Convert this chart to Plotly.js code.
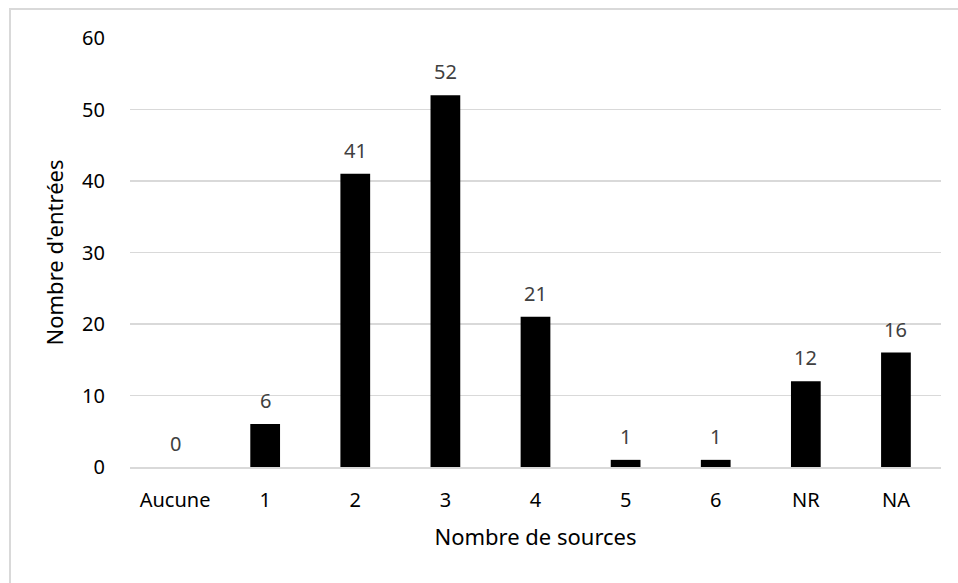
<!DOCTYPE html>
<html>
<head>
<meta charset="utf-8">
<script src="https://cdn.plot.ly/plotly-3.0.1.min.js"></script>
<style>
html,body{margin:0;padding:0;background:#fff;}
#wrap{position:relative;width:958px;height:583px;overflow:hidden;}
#chart{width:958px;height:583px;}
#frame{position:absolute;left:9px;top:8px;width:1000px;height:700px;border-left:2px solid #d9d9d9;border-top:2px solid #d9d9d9;pointer-events:none;}
</style>
</head>
<body>
<div id="wrap">
<div id="chart"></div>
<div id="frame"></div>
</div>
<script>
const categories = ["Aucune", "1", "2", "3", "4", "5", "6", "NR", "NA"];
const values = [0, 6, 41, 52, 21, 1, 1, 12, 16];
const yTicks = [0, 10, 20, 30, 40, 50, 60];
const xTitle = "Nombre de sources";
const yTitle = "Nombre d'entrées";

const font = "Noto Sans, DejaVu Sans, sans-serif";

const trace = {
  type: "bar",
  x: categories,
  y: values,
  marker: {color: "#000000", line: {width: 0}},
  hoverinfo: "none"
};

const annotations = categories.map((c, i) => ({
  x: c, y: values[i], xref: "x", yref: "y",
  text: String(values[i]), showarrow: false,
  yanchor: "bottom", yshift: 8,
  font: {family: font, size: 20, color: "#404040"}
}));

const layout = {
  width: 958, height: 583,
  margin: {l: 130, r: 17, t: 37.5, b: 116},
  paper_bgcolor: "#ffffff", plot_bgcolor: "#ffffff",
  bargap: 0.67,
  showlegend: false,
  font: {family: font, size: 20, color: "#000"},
  xaxis: {
    type: "category",
    tickfont: {family: font, size: 20, color: "#000"},
    showgrid: false,
    showline: true, linecolor: "#d9d9d9", linewidth: 1.5,
    ticks: "outside", ticklen: 14, tickcolor: "rgba(0,0,0,0)",
    title: {text: xTitle, font: {family: font, size: 22, color: "#000"}, standoff: 18}
  },
  yaxis: {
    range: [0, 60],
    tickvals: yTicks,
    ticktext: yTicks.map(String),
    tickfont: {family: font, size: 20, color: "#000"},
    showgrid: true, gridcolor: "#d9d9d9", gridwidth: 1.5,
    zeroline: false, showline: false,
    ticks: "outside", ticklen: 20, tickcolor: "rgba(0,0,0,0)",
    title: {text: yTitle, font: {family: font, size: 22, color: "#000"}, standoff: 12}
  },
  annotations: annotations
};

Plotly.newPlot("chart", [trace], layout, {staticPlot: true, displayModeBar: false});
</script>
</body>
</html>
